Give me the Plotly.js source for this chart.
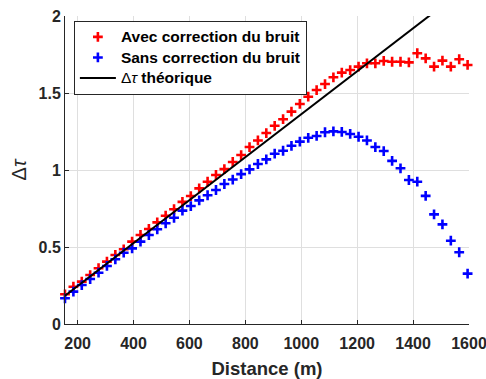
<!DOCTYPE html>
<html>
<head>
<meta charset="utf-8">
<script src="https://cdn.plot.ly/plotly-3.0.1.min.js"></script>
<style>html,body{margin:0;padding:0;background:#fff;}#chart{width:486px;height:379px;}</style>
</head>
<body>
<div id="chart"></div>
<script>
const distance = [155,185,215,245,275,305,335,365,395,425,455,485,515,545,575,605,635,665,695,725,755,785,815,845,875,905,935,965,995,1025,1055,1085,1115,1145,1175,1205,1235,1265,1295,1325,1355,1385,1415,1445,1475,1505,1535,1565,1595];
const avecCorrection = [0.193,0.242,0.275,0.318,0.362,0.405,0.448,0.485,0.535,0.578,0.617,0.660,0.703,0.745,0.793,0.831,0.881,0.924,0.968,1.006,1.052,1.097,1.149,1.192,1.240,1.287,1.330,1.379,1.429,1.476,1.519,1.558,1.602,1.632,1.649,1.671,1.693,1.693,1.708,1.703,1.703,1.699,1.758,1.725,1.671,1.710,1.671,1.719,1.682];
const sansCorrection = [0.167,0.210,0.253,0.292,0.333,0.377,0.420,0.463,0.491,0.535,0.578,0.615,0.654,0.690,0.736,0.766,0.803,0.836,0.870,0.909,0.938,0.973,1.004,1.039,1.069,1.106,1.125,1.157,1.184,1.209,1.221,1.245,1.251,1.247,1.234,1.216,1.192,1.149,1.123,1.059,1.011,0.935,0.924,0.832,0.712,0.647,0.541,0.466,0.327];
const theoryX = [155, 1600];
const theoryY = [0.184, 2.199];
const xTicks = [200,400,600,800,1000,1200,1400,1600];
const yTicks = [0,0.5,1,1.5,2];
const yTickLabels = ['0','0.5','1','1.5','2'];
const seriesNames = ['Avec correction du bruit','Sans correction du bruit','théorique'];

const FONT = 'Liberation Sans, Arial, Helvetica, sans-serif';
const INK = '#262626';
const markerStyle = (c) => ({symbol:'cross-thin', size:7, color:c, line:{color:c, width:2.6}});
const big = (t) => '<span style="font-size:15.5px">' + t + '</span>';

const traces = [
  {x:distance, y:avecCorrection, mode:'markers', type:'scatter', name:big('<b>'+seriesNames[0]+'</b>'), marker:markerStyle('#ff0000'), cliponaxis:false},
  {x:distance, y:sansCorrection, mode:'markers', type:'scatter', name:big('<b>'+seriesNames[1]+'</b>'), marker:markerStyle('#0000ff'), cliponaxis:false},
  {x:theoryX, y:theoryY, mode:'lines', type:'scatter', name:big('Δ<i>τ</i> <b>'+seriesNames[2]+'</b>'), line:{color:'#000000', width:2}}
];

const layout = {
  width:486, height:379,
  margin:{l:65, r:17, t:16, b:55},
  paper_bgcolor:'#ffffff', plot_bgcolor:'#ffffff',
  showlegend:true,
  legend:{x:0.022, y:0.985, xanchor:'left', yanchor:'top', bgcolor:'#ffffff', bordercolor:INK, borderwidth:1,
          font:{family:FONT, size:13.5, color:'#000000'}, itemwidth:36, tracegroupgap:0},
  xaxis:{range:[155,1600], tickvals:xTicks, ticks:'inside', ticklen:4, tickcolor:INK, showline:true, linecolor:INK, linewidth:1,
         showgrid:true, gridcolor:'#dfdfdf', gridwidth:1, zeroline:false, mirror:false, ticklabeloverflow:'allow', ticklabelstandoff:5,
         tickfont:{family:FONT, size:16, color:INK, weight:'bold'},
         title:{text:'Distance (m)', font:{family:FONT, size:18.5, color:INK, weight:'bold'}, standoff:14}},
  yaxis:{range:[0,2], tickvals:yTicks, ticktext:yTickLabels, ticks:'inside', ticklen:4, tickcolor:INK, showline:true, linecolor:INK, linewidth:1,
         showgrid:true, gridcolor:'#dfdfdf', gridwidth:1, zeroline:false, mirror:false, ticklabeloverflow:'allow',
         tickfont:{family:FONT, size:16, color:INK, weight:'bold'},
         title:{text:'Δ<i>τ</i>', font:{family:FONT, size:20, color:INK}, standoff:6}}
};

Plotly.newPlot('chart', traces, layout, {displayModeBar:false, staticPlot:true});
</script>
</body>
</html>
